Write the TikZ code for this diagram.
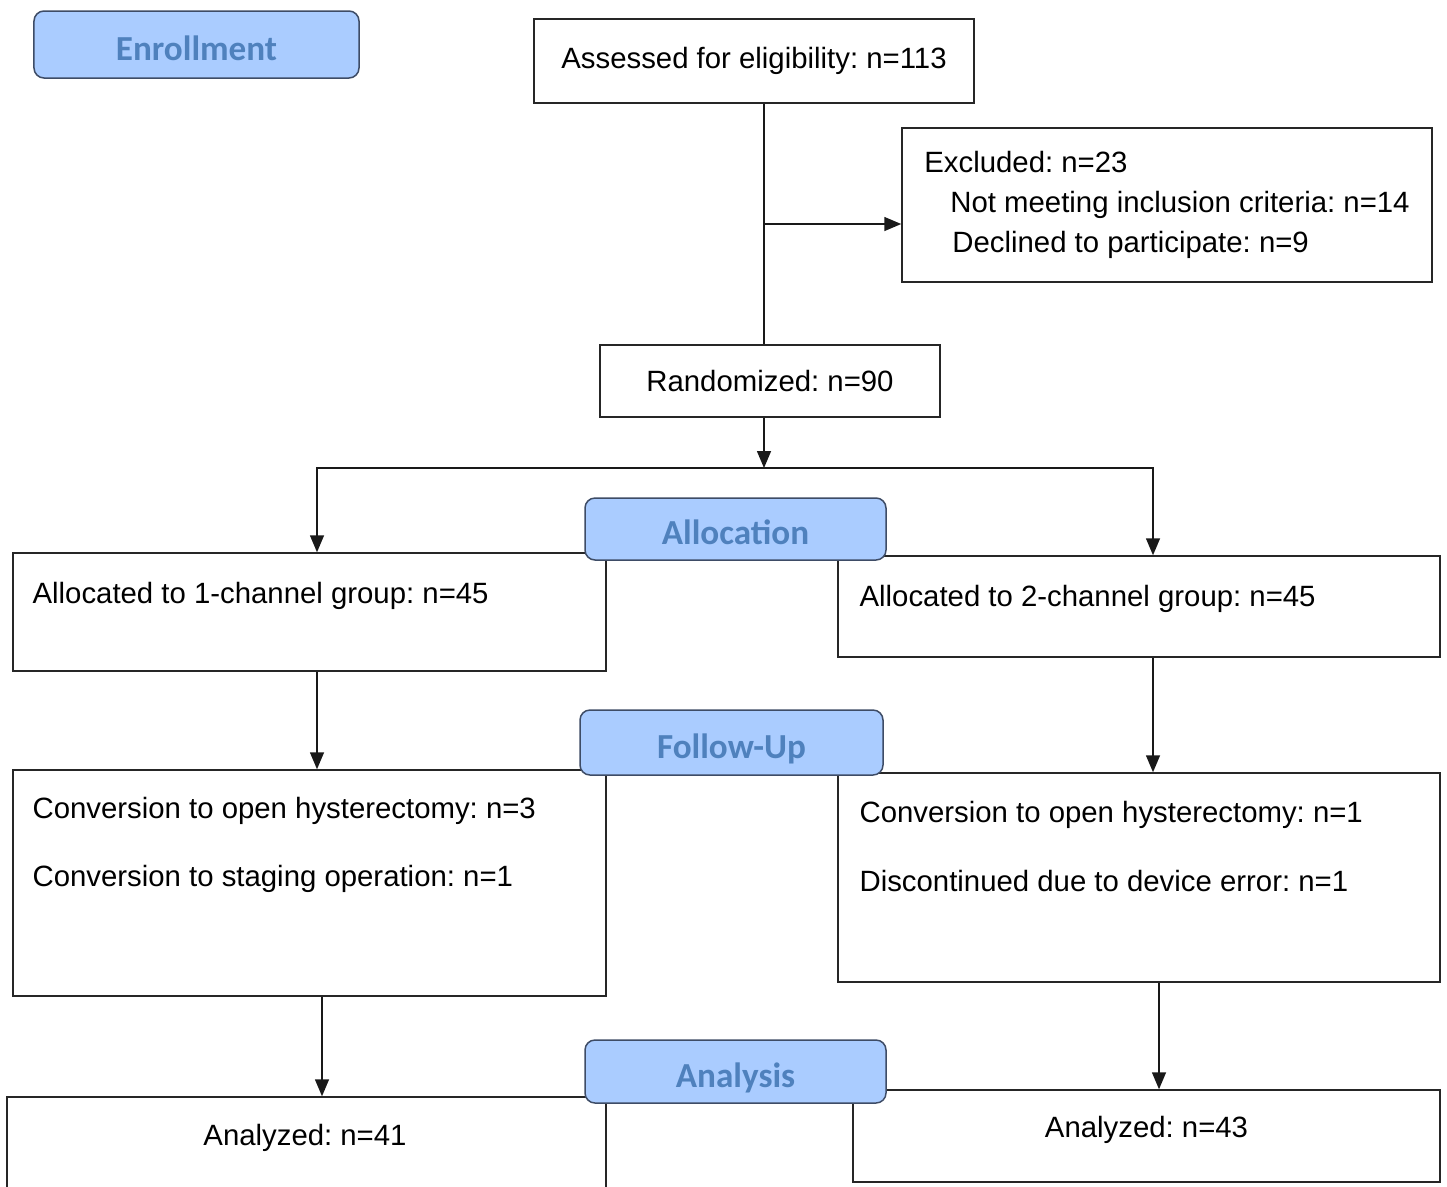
\documentclass[tikz,border=0pt]{standalone}
\usepackage{fontspec}
\setmainfont{Liberation Sans}
\newfontfamily\stagefont{Carlito}
\usepackage{tikz}
\usetikzlibrary{arrows.meta, calc, positioning}
\definecolor{stagefill}{RGB}{170,204,255}
\definecolor{stagetext}{RGB}{79,129,189}
\definecolor{stageline}{RGB}{62,76,102}
\frenchspacing

\begin{document}
\begin{tikzpicture}[x=0.2mm, y=-0.2mm]
\tikzset{box/.style={rectangle, draw=black!85, line width=0.3mm, fill=white, inner sep=0pt, font=\fontsize{16.7}{20}\selectfont}}
\tikzset{txt/.style={anchor=west, inner sep=0pt, font=\fontsize{16.7}{20}\selectfont}}
\tikzset{stage/.style={rectangle, rounded corners=2mm, draw=stageline, line width=0.3mm, fill=stagefill, text=stagetext, font=\stagefont\bfseries\fontsize{20}{24}\selectfont, minimum width=60.2mm, minimum height=12.6mm}}
\tikzset{arrow/.style={-{Triangle[length=3.4mm, width=2.8mm]}, line width=0.3mm, draw=black!90}}

	\newcommand{\stagebox}[4]{
\node[stage, #4] (#1) at #2 {\smash{\raisebox{-3.1mm}{#3}}};
	}

\useasboundingbox (0,0) rectangle (1447,1186);
\clip (0,0) rectangle (1447,1186);

\node[box, minimum width=88mm, minimum height=16.8mm] (assess) at (754,61) {Assessed for eligibility: n=113};
\node[box, minimum width=106mm, minimum height=30.8mm, align=left, font=\fontsize{16.7}{22.8}\selectfont] (excl) at (1167,205) {Excluded: n=23\\\hspace*{5.2mm}Not meeting inclusion criteria: n=14\\\hspace*{5.6mm}Declined to participate: n=9};
\node[box, minimum width=68mm, minimum height=14.4mm] (rand) at (770,381) {Randomized: n=90};

\node[box, minimum width=118.6mm, minimum height=23.6mm] (alloc1) at (309.5,612) {};
\node[box, minimum width=120.4mm, minimum height=20.2mm] (alloc2) at (1139,606.5) {};
\node[box, minimum width=118.6mm, minimum height=45.2mm] (fu1) at (309.5,883) {};
\node[box, minimum width=120.4mm, minimum height=41.8mm] (fu2) at (1139,877.5) {};
\node[box, minimum width=119.8mm, minimum height=26.6mm] (an1) at (306.5,1163.5) {};
\node[box, minimum width=117.4mm, minimum height=18.4mm] (an2) at (1146.5,1136) {};

\node[txt] (alloc1t) at ([xshift=4mm, yshift=-8.8mm] alloc1.north west) {Allocated to 1-channel group: n=45};
\node[txt] (alloc2t) at ([xshift=4.4mm, yshift=-8.8mm] alloc2.north west) {Allocated to 2-channel group: n=45};
\node[txt] (fu1a) at ([xshift=4mm, yshift=-8.4mm] fu1.north west) {Conversion to open hysterectomy: n=3};
\node[txt] (fu1b) at ([xshift=4mm, yshift=-22mm] fu1.north west) {Conversion to staging operation: n=1};
\node[txt] (fu2a) at ([xshift=4.4mm, yshift=-8.6mm] fu2.north west) {Conversion to open hysterectomy: n=1};
\node[txt] (fu2b) at ([xshift=4.4mm, yshift=-21.8mm] fu2.north west) {Discontinued due to device error: n=1};
\node[txt, anchor=center] (an1t) at ([xshift=-0.3mm, yshift=-8.4mm] an1.north) {Analyzed: n=41};
\node[txt, anchor=center] (an2t) at ([yshift=-8.2mm] an2.north) {Analyzed: n=43};

\coordinate (split) at (764,224);
\coordinate (fork) at (764,468);
\draw[line width=0.3mm, black!90] (assess.south -| split) -- (rand.north -| split);
\draw[arrow] (split) -- (excl.west |- split);
\draw[arrow] (rand.south -| fork) -- (fork);
\draw[arrow] (fork) -| ([xshift=1.5mm] alloc1.north);
\draw[arrow] (fork) -| ([xshift=2.8mm] alloc2.north);
\draw[arrow] ([xshift=1.5mm] alloc1.south) -- ([xshift=1.5mm] fu1.north);
\draw[arrow] ([xshift=2.8mm] alloc2.south) -- ([xshift=2.8mm] fu2.north);
\draw[arrow] ([xshift=2.5mm] fu1.south) -- ([xshift=2.5mm] fu1.south |- an1.north);
\draw[arrow] ([xshift=4mm] fu2.south) -- ([xshift=4mm] fu2.south |- an2.north);

\stagebox{enroll}{(196.5,44.5)}{Enrollment}{minimum width=65mm, minimum height=13.4mm}
\stagebox{alloc}{(735.5,529)}{Allocation}{minimum height=12.4mm}
\stagebox{follow}{(731.5,742.5)}{Follow-Up}{minimum width=60.6mm, minimum height=13mm}
\stagebox{analysis}{(735.5,1071.5)}{Analysis}{}
\end{tikzpicture}
\end{document}
